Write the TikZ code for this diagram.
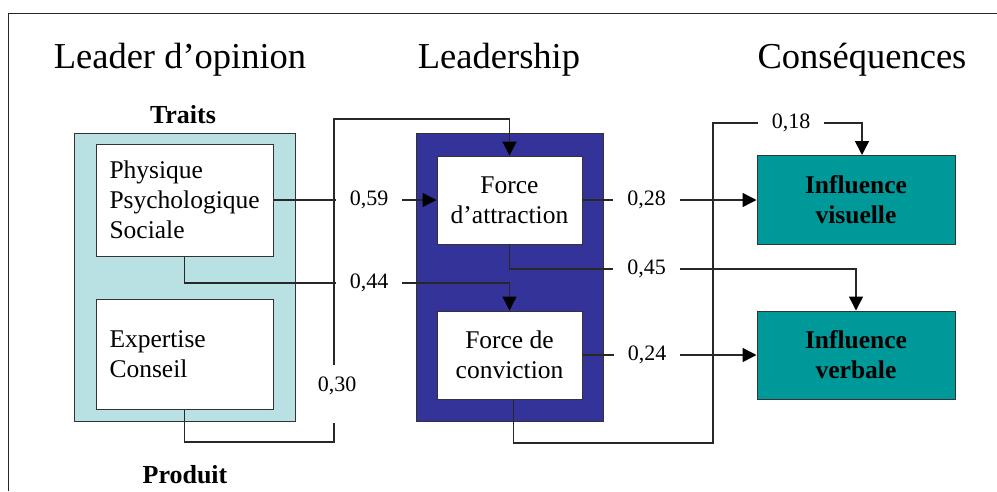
\documentclass[tikz,border=0pt]{standalone}
\usepackage{fontspec}
\setmainfont{Liberation Serif}
\usetikzlibrary{arrows.meta}
\definecolor{traitbg}{RGB}{185,224,227}
\definecolor{leadbg}{RGB}{51,51,153}
\definecolor{tealbox}{RGB}{0,153,153}
\definecolor{connc}{RGB}{40,40,40}
\begin{document}
\begin{tikzpicture}[x=1pt,y=-1pt,
  panel/.style={draw=black!80,line width=1pt,inner sep=0pt},
  wbox/.style={panel,fill=white,font=\fontsize{25.5}{30}\selectfont},
  res/.style={panel,fill=tealbox,align=center,font=\fontsize{25.5}{30}\selectfont\bfseries},
  title/.style={font=\fontsize{36.5}{42}\selectfont,anchor=base,inner sep=0pt},
  head/.style={font=\fontsize{26}{30}\selectfont\bfseries,anchor=base,inner sep=0pt},
  coef/.style={font=\fontsize{22}{26}\selectfont,inner xsep=14pt,inner ysep=2pt},
  conn/.style={draw=connc,line width=1.4pt},
  arr/.style={conn,-{Triangle[length=14pt,width=14pt,color=black,fill=black]}},
]
\useasboundingbox (0,0) rectangle (997,491);
\draw[line width=1pt,draw=black!85] (997,13) -- (8,13) -- (8,491);

% titles
\node[title] (t1) at (180,68) {Leader d’opinion};
\node[title] (t2) at (499,68) {Leadership};
\node[title] (t3) at (862,68) {Conséquences};
\node[head] (traits) at (183,123) {Traits};
\node[head] (produit) at (185,483) {Produit};

% panels
\node[panel,fill=traitbg,minimum width=221pt,minimum height=288pt] (tbg) at (184.5,277) {};
\node[panel,fill=leadbg,minimum width=187pt,minimum height=288pt] (lbg) at (509.5,277) {};

% boxes
\node[wbox,text width=150pt,align=left,minimum width=177pt,minimum height=112pt] (phys) at (184.5,200) {Physique\\Psychologique\\Sociale};
\node[wbox,text width=150pt,align=left,minimum width=177pt,minimum height=110pt] (expert) at (184.5,354) {Expertise\\Conseil};
\node[wbox,align=center,minimum width=145pt,minimum height=88pt] (attr) at (509.5,200) {Force\\d’attraction};
\node[wbox,align=center,minimum width=145pt,minimum height=88pt] (conv) at (509.5,355) {Force de\\conviction};
\node[res,minimum width=198pt,minimum height=89pt] (visu) at (856,200) {Influence\\visuelle};
\node[res,minimum width=198pt,minimum height=88pt] (verb) at (856,355) {Influence\\verbale};

% coefficient labels
\node[coef] (l59) at (369,200) {0,59};
\node[coef] (l44) at (369,283) {0,44};
\node[coef] (l28) at (646.5,200) {0,28};
\node[coef] (l45) at (646.5,269) {0,45};
\node[coef] (l24) at (647,355) {0,24};
\node[coef] (l18) at (791,123) {0,18};
\node[coef,inner xsep=0pt] (l30) at (337,386) {0,30};

% helper coordinates
\coordinate (b30) at (334,442);
\coordinate (g30a) at (334,423);
\coordinate (g30b) at (334,365);
\coordinate (t30) at (334,119);
\coordinate (b18) at (713,443);
\coordinate (t18) at (713,123);

% connectors
\draw[conn] (phys.east) -- (l59.west);
\draw[arr] (l59.east) -- (attr.west);
\draw[conn] (phys.south) |- (l44.west);
\draw[arr] (l44.east) -| (conv.north);
\draw[conn] (expert.south) |- (b30) -- (g30a);
\draw[arr] (g30b) -- (t30) -| (attr.north);
\draw[conn] (attr.east) -- (l28.west);
\draw[arr] (l28.east) -- (visu.west);
\draw[conn] (attr.south) |- (l45.west);
\draw[arr] (l45.east) -| (verb.north);
\draw[conn] (conv.east) -- (l24.west);
\draw[arr] (l24.east) -- (verb.west);
\draw[conn] ([xshift=4pt]conv.south) |- (b18) -- (t18) -- (l18.west);
\draw[arr] (l18.east) -| ([xshift=6pt]visu.north);
\end{tikzpicture}
\end{document}
